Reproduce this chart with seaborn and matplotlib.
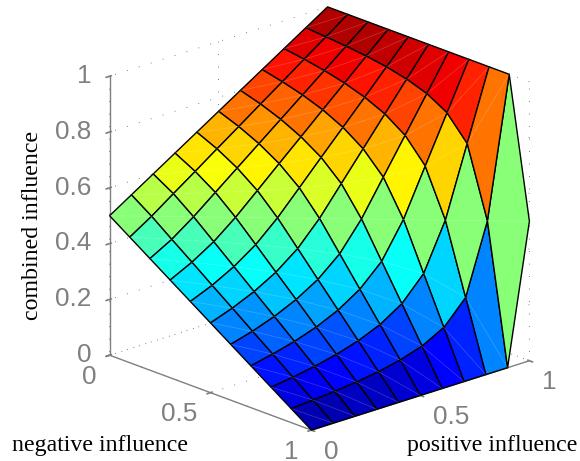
import matplotlib
matplotlib.use("Agg")
import matplotlib.pyplot as plt
import numpy as np
import seaborn as sns
from matplotlib.colors import LinearSegmentedColormap

negative = [0.0, 0.1, 0.2, 0.3, 0.4, 0.5, 0.6, 0.7, 0.8, 0.9, 1.0]
positive = [0.0, 0.1, 0.2, 0.3, 0.4, 0.5, 0.6, 0.7, 0.8, 0.9, 1.0]

# one row per negative influence value, one column per positive influence value
combined = [
    [0.50, 0.55, 0.60, 0.65, 0.70, 0.75, 0.80, 0.85, 0.90, 0.95, 1.00],
    [0.45, 0.50, 0.556, 0.611, 0.667, 0.722, 0.778, 0.833, 0.889, 0.944, 1.00],
    [0.40, 0.444, 0.50, 0.5625, 0.625, 0.6875, 0.75, 0.8125, 0.875, 0.9375, 1.00],
    [0.35, 0.389, 0.4375, 0.50, 0.571, 0.643, 0.714, 0.786, 0.857, 0.929, 1.00],
    [0.30, 0.333, 0.375, 0.429, 0.50, 0.583, 0.667, 0.75, 0.833, 0.917, 1.00],
    [0.25, 0.278, 0.3125, 0.357, 0.417, 0.50, 0.60, 0.70, 0.80, 0.90, 1.00],
    [0.20, 0.222, 0.25, 0.286, 0.333, 0.40, 0.50, 0.625, 0.75, 0.875, 1.00],
    [0.15, 0.167, 0.1875, 0.214, 0.25, 0.30, 0.375, 0.50, 0.667, 0.833, 1.00],
    [0.10, 0.111, 0.125, 0.143, 0.167, 0.20, 0.25, 0.333, 0.50, 0.75, 1.00],
    [0.05, 0.056, 0.0625, 0.071, 0.083, 0.10, 0.125, 0.167, 0.25, 0.50, 1.00],
    [0.00, 0.00, 0.00, 0.00, 0.00, 0.00, 0.00, 0.00, 0.00, 0.00, 0.50],
]

xy_ticks = [0, 0.5, 1]
xy_tick_labels = ["0", "0.5", "1"]
z_ticks = [0, 0.2, 0.4, 0.6, 0.8, 1]
z_tick_labels = ["0", "0.2", "0.4", "0.6", "0.8", "1"]

GRAY = "#808080"
FIG_W, FIG_H = 580, 461

sns.set_theme(style="white")
plt.rcParams["font.family"] = ["Liberation Sans", "DejaVu Sans"]
plt.rcParams["grid.color"] = "#555555"
plt.rcParams["grid.linewidth"] = 0.6
plt.rcParams["grid.linestyle"] = (0, (1, 14))
plt.rcParams["axes.linewidth"] = 1.0

X, Y = np.meshgrid(negative, positive, indexing="ij")
Z = np.array(combined)

# 64 level jet like the matlab one, mpl's has slightly different anchors
jet = LinearSegmentedColormap.from_list(
    "jet64",
    [
        (0.0, (0, 0, 0.5)),
        (0.125, (0, 0, 1)),
        (0.375, (0, 1, 1)),
        (0.625, (1, 1, 0)),
        (0.875, (1, 0, 0)),
        (1.0, (0.5, 0, 0)),
    ],
    N=64,
)

fig = plt.figure(figsize=(FIG_W / 100, FIG_H / 100), dpi=100)
ax = fig.add_axes([63 / FIG_W, -14 / FIG_H, 499.5 / FIG_W, 499.5 / FIG_H], projection="3d")
ax.patch.set_alpha(0)
ax.set_proj_type("ortho")
ax.view_init(elev=20.1, azim=-42.8)
ax.set_box_aspect((1, 1, 1))
ax.computed_zorder = False

ax.plot_surface(
    X,
    Y,
    Z,
    rstride=1,
    cstride=1,
    facecolors=jet(Z),
    edgecolor="black",
    linewidth=1.0,
    shade=False,
    antialiased=True,
    zorder=2,
)

# faint seams where the renderer split each cell in two triangles
for i in range(len(negative) - 1):
    for j in range(len(positive) - 1):
        ax.plot(
            [X[i, j], X[i + 1, j + 1]],
            [Y[i, j], Y[i + 1, j + 1]],
            [Z[i, j], Z[i + 1, j + 1]],
            color="white",
            alpha=0.22,
            linewidth=0.5,
            zorder=3,
        )

ax.set_xlim(0, 1, view_margin=0)
ax.set_ylim(0, 1, view_margin=0)
ax.set_zlim(0, 1, view_margin=0)
ax.set_xticks(xy_ticks, xy_tick_labels)
ax.set_yticks(xy_ticks, xy_tick_labels)
ax.set_zticks(z_ticks, z_tick_labels)

for axis in (ax.xaxis, ax.yaxis, ax.zaxis):
    axis.set_pane_color((1, 1, 1, 0))
    axis.pane.set_edgecolor("none")
    axis.line.set_color(GRAY)
    axis.line.set_linewidth(1.0)
ax.tick_params(axis="both", colors=GRAY, labelcolor=GRAY, labelsize=18.8)
ax.tick_params(axis="z", colors=GRAY, labelcolor=GRAY, labelsize=18.8, pad=0)
ax.zaxis.set_ticks_position("lower")

for t in ax.get_xticklabels():
    t.set_ha("right")
    t.set_va("center")
for t in ax.get_yticklabels():
    t.set_ha("left")
    t.set_va("center")
for t in ax.get_zticklabels():
    t.set_ha("right")
    t.set_va("center")

label_font = dict(family="Liberation Serif", fontsize=17.2, color="black", ha="center", va="center")
fig.text(100 / FIG_W, 1 - 445 / FIG_H, "negative influence", **label_font)
fig.text(492 / FIG_W, 1 - 445 / FIG_H, "positive influence", **label_font)
fig.text(33 / FIG_W, 1 - 225 / FIG_H, "combined influence", rotation=90, **label_font)

fig.savefig("out.png", dpi=100)
